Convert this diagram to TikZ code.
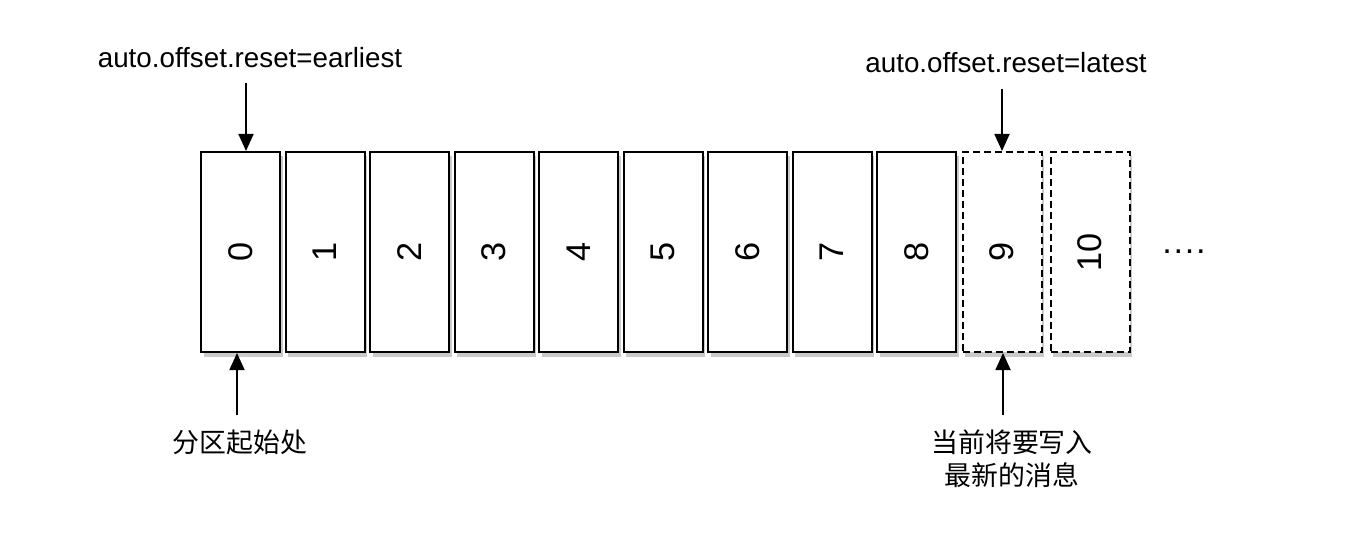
\documentclass[tikz,border=0pt]{standalone}
\usepackage{fontspec}
\setmainfont{Liberation Sans}
\newfontfamily\cjk{Noto Sans CJK SC}
\usetikzlibrary{arrows.meta,shadows}
\begin{document}
\begin{tikzpicture}[
        cella/.style={rectangle, draw, line width=0.04cm, minimum width=1.58cm, minimum height=4cm, inner sep=0pt, fill=white,
            drop shadow={shadow xshift=0.05cm, shadow yshift=-0.09cm, fill=black!60, opacity=0.35}, font=\fontsize{19.5}{20}\selectfont},
        futura/.style={cella, dash pattern=on 0.14cm off 0.08cm},
        etichetta/.style={inner sep=0pt, font=\fontsize{15.8}{19}\selectfont},
        freccia/.style={-{Triangle[width=0.3cm, length=0.34cm]}, line width=0.035cm}]
            \useasboundingbox (0,0) rectangle (27.2,10.76);

            % Celle gia' scritte
            \foreach \i in {0,...,8}
                \node[cella] (P\i) at (4.81+1.69*\i,5.72) {\rotatebox{90}{\i}};

            % Celle ancora da scrivere
            \node[futura] (P9) at (20.04,5.72) {\rotatebox{90}{9}};
            \node[futura] (P10) at (21.80,5.72) {\rotatebox{90}{10}};
            \node[anchor=base, inner sep=0pt, font=\fontsize{19.5}{20}\selectfont] (D) at (23.68,5.69) {.\kern1pt.\kern1pt.\kern1pt.};

            % Etichette
            \node[etichetta] (E) at (5.00,9.60) {auto.offset.reset=earliest};
            \node[etichetta] (L) at (20.12,9.50) {auto.offset.reset=latest};
            \node[etichetta, font=\cjk\fontsize{15.3}{18.8}\selectfont] (S) at (4.80,1.92) {分区起始处};
            \node[etichetta, align=center, font=\cjk\fontsize{15.3}{18.8}\selectfont] (N) at (20.24,1.59) {当前将要写入\\最新的消息};

            \coordinate (e) at (4.92,9.10);
            \coordinate (l) at (20.04,8.98);
            \coordinate (s) at (4.74,2.46);
            \coordinate (n) at (20.06,2.46);

            % Collegamenti
            \draw[freccia] (e) -- (e |- P0.north);
            \draw[freccia] (l) -- (l |- P9.north);
            \draw[freccia] (s) -- (s |- P0.south);
            \draw[freccia] (n) -- (n |- P9.south);
        \end{tikzpicture}
\end{document}
